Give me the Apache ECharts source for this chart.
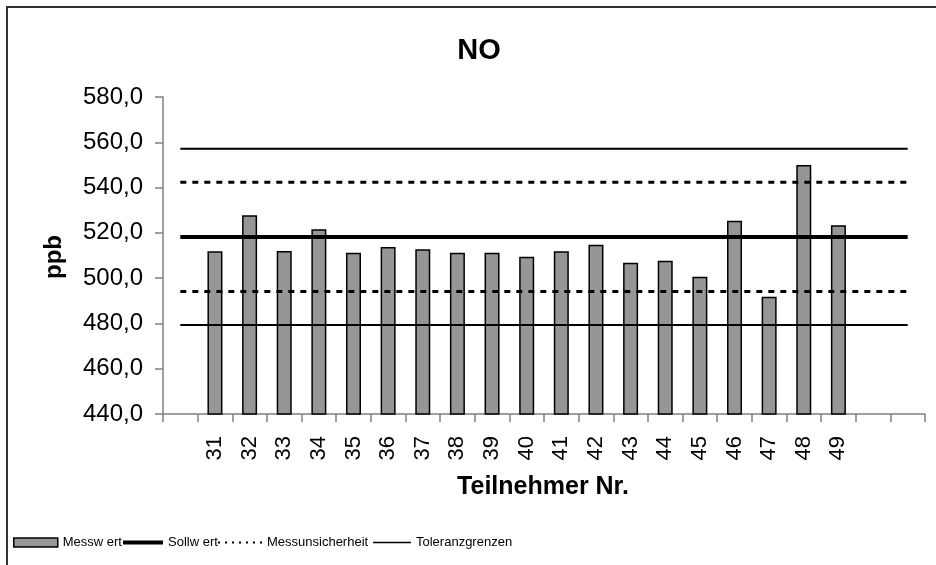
<!DOCTYPE html>
<html>
<head>
<meta charset="utf-8">
<script src="https://cdn.jsdelivr.net/npm/echarts@6/dist/echarts.min.js"></script>
<style>html,body{margin:0;padding:0;background:#fff}#c{width:936px;height:565px}</style>
</head>
<body>
<div id="c"></div>
<script>
const categories = [' ', '31','32','33','34','35','36','37','38','39','40','41','42','43','44','45','46','47','48','49', '  ', '   '];
const messwert = [null, 511.9, 527.8, 512.0, 521.6, 511.2, 513.8, 512.8, 511.2, 511.2, 509.4, 511.9, 514.7, 506.8, 507.7, 500.6, 525.3, 491.8, 550.0, 523.4, null, null];
const sollwert = [518.2,518.2,518.2,518.2,518.2,518.2,518.2,518.2,518.2,518.2,518.2,518.2,518.2,518.2,518.2,518.2,518.2,518.2,518.2,518.2,518.2,518.2];
const unsicherheitOben = [542.3,542.3,542.3,542.3,542.3,542.3,542.3,542.3,542.3,542.3,542.3,542.3,542.3,542.3,542.3,542.3,542.3,542.3,542.3,542.3,542.3,542.3];
const unsicherheitUnten = [494.1,494.1,494.1,494.1,494.1,494.1,494.1,494.1,494.1,494.1,494.1,494.1,494.1,494.1,494.1,494.1,494.1,494.1,494.1,494.1,494.1,494.1];
const toleranzOben = [557.1,557.1,557.1,557.1,557.1,557.1,557.1,557.1,557.1,557.1,557.1,557.1,557.1,557.1,557.1,557.1,557.1,557.1,557.1,557.1,557.1,557.1];
const toleranzUnten = [479.3,479.3,479.3,479.3,479.3,479.3,479.3,479.3,479.3,479.3,479.3,479.3,479.3,479.3,479.3,479.3,479.3,479.3,479.3,479.3,479.3,479.3];
const yMin = 440, yMax = 580, yStep = 20;

const F = '"Liberation Sans", Arial, sans-serif';
const chart = echarts.init(document.getElementById('c'), null, {renderer: 'canvas'});
const legendText = {fontFamily: F, fontSize: 13, color: '#000'};
const dotPath = 'path://M0,0h2v2h-2zM7,0h2v2h-2zM14,0h2v2h-2zM21,0h2v2h-2zM28,0h2v2h-2zM35,0h2v2h-2zM42,0h2v2h-2z';
chart.setOption({
  animation: false,
  backgroundColor: '#fff',
  title: {text: 'NO', left: 474, top: 31, textAlign: 'center',
    textStyle: {fontFamily: F, fontSize: 29, fontWeight: 'bold', color: '#000'}},
  grid: {left: 163, right: 11, top: 97, bottom: 151},
  legend: [
    {data: [{name: 'Messw ert', icon: 'rect'}], left: 8, top: 531, itemWidth: 44, itemHeight: 9, textStyle: legendText,
      itemStyle: {borderColor: '#000', borderWidth: 1.5, color: '#969696'}},
    {data: [{name: 'Sollw ert', icon: 'rect'}], left: 118, top: 531, itemWidth: 40, itemHeight: 4, textStyle: legendText,
      itemStyle: {color: '#000', borderWidth: 0}},
    {data: [{name: 'Messunsicherheit', icon: dotPath}], left: 213, top: 531, itemWidth: 44, itemHeight: 2, symbolKeepAspect: false, textStyle: legendText,
      itemStyle: {color: '#000', borderWidth: 0}},
    {data: [{name: 'Toleranzgrenzen', icon: 'rect'}], left: 368, top: 531, itemWidth: 38, itemHeight: 1.5, textStyle: legendText,
      itemStyle: {color: '#000', borderWidth: 0}}
  ],
  graphic: [
    {type: 'rect', shape: {x: 7, y: 7, width: 1000, height: 1000}, style: {fill: 'none', stroke: '#333', lineWidth: 2}, silent: true},
    {type: 'text', x: 543, y: 487, style: {text: 'Teilnehmer Nr.', font: 'bold 25px ' + F, fill: '#000', align: 'center', verticalAlign: 'middle'}},
    {type: 'text', x: 54, y: 257, rotation: Math.PI / 2, style: {text: 'ppb', font: 'bold 24px ' + F, fill: '#000', align: 'center', verticalAlign: 'middle'}}
  ],
  xAxis: {
    type: 'category', data: categories, boundaryGap: true,
    axisLine: {lineStyle: {color: '#808080', width: 1.5}},
    axisTick: {show: true, length: 8, alignWithLabel: false, lineStyle: {color: '#808080', width: 1.5}, interval: 0},
    axisLabel: {interval: 0, rotate: 90, margin: 22, fontFamily: F, fontSize: 22, color: '#000'}
  },
  yAxis: {
    type: 'value', min: yMin, max: yMax, interval: yStep,
    axisLine: {show: true, lineStyle: {color: '#808080', width: 1.5}},
    axisTick: {show: true, length: 8, lineStyle: {color: '#808080', width: 1.5}},
    splitLine: {show: false},
    axisLabel: {margin: 20, fontFamily: F, fontSize: 24, color: '#000',
      formatter: v => v.toFixed(1).replace('.', ',')}
  },
  series: [
    {name: 'Messw ert', type: 'bar', data: messwert, barWidth: 15,
      itemStyle: {color: '#969696', borderColor: '#000', borderWidth: 1.5}},
    {name: 'Sollw ert', type: 'line', data: sollwert, symbol: 'none',
      lineStyle: {color: '#000', width: 4}, itemStyle: {color: '#000'}},
    {name: 'Messunsicherheit', type: 'line', data: unsicherheitOben, symbol: 'none',
      lineStyle: {color: '#000', width: 3, type: [6, 6]}, itemStyle: {color: '#000'}},
    {name: 'Messunsicherheit', type: 'line', data: unsicherheitUnten, symbol: 'none',
      lineStyle: {color: '#000', width: 3, type: [6, 6]}, itemStyle: {color: '#000'}},
    {name: 'Toleranzgrenzen', type: 'line', data: toleranzOben, symbol: 'none',
      lineStyle: {color: '#000', width: 2}, itemStyle: {color: '#000'}},
    {name: 'Toleranzgrenzen', type: 'line', data: toleranzUnten, symbol: 'none',
      lineStyle: {color: '#000', width: 2}, itemStyle: {color: '#000'}}
  ]
});
</script>
</body>
</html>
